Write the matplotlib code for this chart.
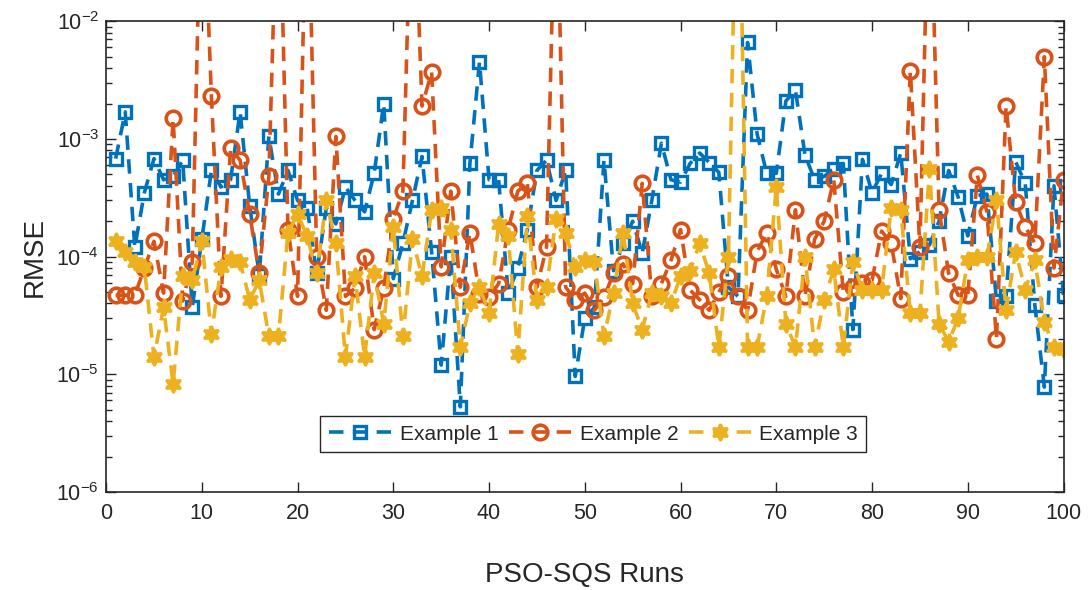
import numpy as np
import matplotlib
matplotlib.use("Agg")
import matplotlib.pyplot as plt
from matplotlib.ticker import LogLocator, FixedLocator

plt.rcParams['font.family'] = ['Liberation Sans', 'DejaVu Sans']

runs = np.arange(1, 101)

# RMSE of each PSO-SQS run (values above 1e-2 leave the visible range)
example1 = [
    6.8e-4, 1.7e-3, 1.2e-4, 3.5e-4, 6.8e-4, 4.5e-4, 4.8e-4, 6.6e-4, 3.7e-5, 1.4e-4,
    5.4e-4, 3.9e-4, 4.5e-4, 1.7e-3, 2.7e-4, 7.0e-5, 1.05e-3, 3.4e-4, 5.4e-4, 3.0e-4,
    2.6e-4, 7.2e-5, 2.6e-4, 1.9e-4, 3.9e-4, 3.0e-4, 2.4e-4, 5.1e-4, 2.0e-3, 6.5e-5,
    1.3e-4, 3.0e-4, 7.1e-4, 1.1e-4, 1.2e-5, 1.0e-4, 5.3e-6, 6.2e-4, 4.5e-3, 4.5e-4,
    4.5e-4, 4.9e-5, 8.0e-5, 1.7e-4, 5.4e-4, 6.6e-4, 3.0e-4, 5.4e-4, 9.6e-6, 3.0e-5,
    3.7e-5, 6.6e-4, 7.6e-5, 1.3e-4, 2.0e-4, 1.07e-4, 3.0e-4, 9.2e-4, 4.5e-4, 4.3e-4,
    6.2e-4, 7.6e-4, 6.3e-4, 5.2e-4, 5.5e-5, 4.6e-5, 6.6e-3, 1.1e-3, 5.1e-4, 5.1e-4,
    2.1e-3, 2.6e-3, 7.3e-4, 4.5e-4, 4.8e-4, 5.6e-4, 6.2e-4, 2.4e-5, 6.7e-4, 3.5e-4,
    5.1e-4, 4.1e-4, 7.6e-4, 9.6e-5, 1.1e-4, 1.26e-4, 2.0e-4, 5.4e-4, 3.2e-4, 1.5e-4,
    3.3e-4, 3.4e-4, 4.2e-5, 4.6e-5, 6.4e-4, 4.2e-4, 3.9e-5, 7.8e-6, 4.0e-4, 4.7e-5,
]

example2 = [
    4.7e-5, 4.7e-5, 4.7e-5, 8.0e-5, 1.35e-4, 4.9e-5, 1.5e-3, 4.2e-5, 9.0e-5, 3.0e-1,
    2.3e-3, 4.6e-5, 8.3e-4, 6.6e-4, 2.3e-4, 7.2e-5, 4.8e-4, 3.0e-1, 1.7e-4, 4.6e-5,
    3.0e-1, 1.0e-4, 3.5e-5, 1.05e-3, 4.6e-5, 5.4e-5, 1.0e-4, 2.4e-5, 5.4e-5, 2.1e-4,
    3.6e-4, 3.0e-1, 1.9e-3, 3.7e-3, 8.2e-5, 3.6e-4, 5.5e-5, 1.6e-4, 4.8e-5, 4.5e-5,
    5.9e-5, 1.7e-4, 3.6e-4, 4.2e-4, 5.5e-5, 1.2e-4, 3.0e-1, 5.5e-5, 4.3e-5, 4.9e-5,
    3.5e-5, 4.5e-5, 7.2e-5, 8.7e-5, 5.9e-5, 4.2e-4, 4.6e-5, 5.9e-5, 9.3e-5, 1.7e-4,
    5.2e-5, 4.3e-5, 3.5e-5, 5.0e-5, 6.8e-5, 4.6e-5, 3.5e-5, 1.1e-4, 1.6e-4, 7.8e-5,
    4.6e-5, 2.5e-4, 4.6e-5, 1.4e-4, 2.0e-4, 4.5e-4, 5.0e-5, 5.5e-5, 6.0e-5, 6.3e-5,
    1.65e-4, 1.3e-4, 4.4e-5, 3.8e-3, 1.2e-4, 3.0e-1, 2.5e-4, 7.2e-5, 4.7e-5, 4.7e-5,
    4.9e-4, 2.4e-4, 2.0e-5, 1.9e-3, 2.9e-4, 1.8e-4, 1.3e-4, 5.0e-3, 8.0e-5, 4.5e-4,
]

example3 = [
    1.35e-4, 1.1e-4, 9.0e-5, 8.1e-5, 1.4e-5, 3.7e-5, 8.3e-6, 6.8e-5, 6.3e-5, 1.35e-4,
    2.2e-5, 8.1e-5, 9.5e-5, 9.0e-5, 4.3e-5, 6.3e-5, 2.1e-5, 2.1e-5, 1.6e-4, 2.3e-4,
    1.5e-4, 7.2e-5, 3.0e-4, 1.3e-4, 1.4e-5, 6.8e-5, 1.4e-5, 7.2e-5, 2.7e-5, 1.8e-4,
    2.1e-5, 1.4e-4, 6.8e-5, 2.5e-4, 2.6e-4, 1.7e-4, 1.7e-5, 4.0e-5, 5.5e-5, 3.3e-5,
    1.9e-4, 1.5e-4, 1.5e-5, 2.2e-4, 4.3e-5, 5.5e-5, 2.1e-4, 1.6e-4, 8.2e-5, 9.3e-5,
    9.0e-5, 2.1e-5, 4.9e-5, 1.6e-4, 4.0e-5, 2.4e-5, 4.9e-5, 4.6e-5, 4.0e-5, 6.8e-5,
    7.6e-5, 1.3e-4, 7.2e-5, 1.7e-5, 1.0e-4, 1.0e+0, 1.7e-5, 1.7e-5, 4.6e-5, 3.9e-4,
    2.7e-5, 1.7e-5, 1.0e-4, 1.7e-5, 4.3e-5, 7.8e-5, 1.7e-5, 9.0e-5, 5.2e-5, 5.2e-5,
    5.2e-5, 2.6e-4, 2.5e-4, 3.3e-5, 3.3e-5, 5.6e-4, 2.7e-5, 1.9e-5, 3.0e-5, 9.3e-5,
    1.0e-4, 1.0e-4, 3.0e-4, 3.5e-5, 1.1e-4, 5.2e-5, 9.3e-5, 2.8e-5, 1.7e-5, 1.6e-5,
]

series_labels = ['Example 1', 'Example 2', 'Example 3']
x_ticks = list(range(0, 101, 10))

blue = '#0072BD'
orange = '#D95319'
yellow = '#EDB120'
ink = '#262626'

fig = plt.figure(figsize=(10.88, 5.90), dpi=100)
ax = fig.add_axes([0.0975, 0.166, 0.880, 0.798])

dash = (4.0, 2.6)
common = dict(linestyle='--', dashes=dash, lw=2.6, clip_on=True)
ax.plot(runs, example1, color=blue, marker='s', markersize=9,
        markerfacecolor='none', markeredgewidth=2.4, label=series_labels[0], **common)
ax.plot(runs, example2, color=orange, marker='o', markersize=10.5,
        markerfacecolor='none', markeredgewidth=2.6, label=series_labels[1], **common)
ax.plot(runs, example3, color=yellow, marker=(6, 1, 0), markersize=12,
        markerfacecolor=yellow, markeredgewidth=2.0, label=series_labels[2], **common)

ax.set_yscale('log')
ax.set_xlim(0, 100)
ax.set_ylim(1e-6, 1e-2)
ax.xaxis.set_major_locator(FixedLocator(x_ticks))
ax.yaxis.set_major_locator(LogLocator(base=10, numticks=10))
ax.yaxis.set_minor_locator(LogLocator(base=10, subs=np.arange(2, 10), numticks=20))

ax.tick_params(which='both', direction='in', top=True, right=True, colors=ink,
               labelsize=15.5, width=1.0)
ax.tick_params(which='major', length=7)
ax.tick_params(axis='x', which='major', pad=8)
ax.tick_params(axis='y', which='major', pad=5)
ax.tick_params(which='minor', length=4)
for sp in ax.spines.values():
    sp.set_color(ink)
    sp.set_linewidth(1.2)

ax.set_xlabel('PSO-SQS Runs', fontsize=20, color=ink, labelpad=27)
ax.set_ylabel('RMSE', fontsize=20, color=ink, labelpad=6)

leg = ax.legend(loc='center', bbox_to_anchor=(0.509, 0.123), ncol=3, fontsize=15,
                frameon=True, fancybox=False, edgecolor=ink, framealpha=1,
                handlelength=3.0, columnspacing=0.5, handletextpad=0.4,
                borderpad=0.4)
leg.get_frame().set_linewidth(1.0)
for t in leg.get_texts():
    t.set_color(ink)

fig.savefig('out.png', dpi=100)
